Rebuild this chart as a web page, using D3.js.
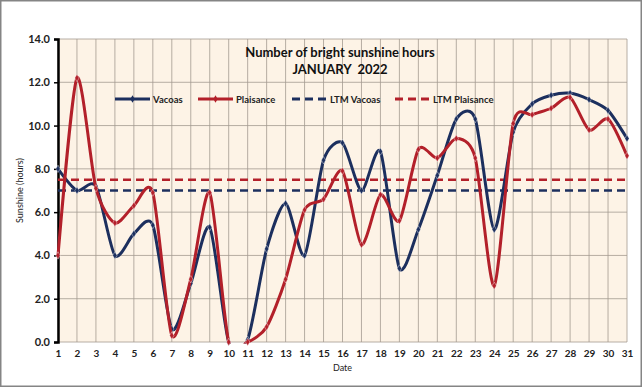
<!DOCTYPE html>
<html>
<head>
<meta charset="utf-8">
<script src="https://d3js.org/d3.v7.min.js"></script>
<title>Number of bright sunshine hours - January 2022</title>
<style>
  body { margin: 0; background: #fff; }
  svg { display: block; font-family: Lato, "Open Sans", sans-serif; }
</style>
</head>
<body>
<div id="chart"></div>
<script>
  // data
  var days = d3.range(1, 32);
  var vacoas = [8.0, 7.0, 7.2, 4.0, 5.0, 5.4, 0.6, 2.7, 5.3, 0.0,
                0.1, 4.3, 6.4, 4.0, 8.4, 9.2, 7.0, 8.8, 3.4, 5.2,
                7.7, 10.3, 10.3, 5.2, 9.7, 11.0, 11.4, 11.5, 11.2, 10.7, 9.4];
  var plaisance = [4.0, 12.2, 7.1, 5.5, 6.3, 6.9, 0.3, 2.9, 6.9, 0.0,
                   0.0, 0.7, 2.9, 6.1, 6.6, 7.9, 4.5, 6.8, 5.6, 8.9,
                   8.5, 9.4, 8.5, 2.6, 10.1, 10.5, 10.8, 11.3, 9.8, 10.3, 8.6];
  var ltmVacoas = 7.0;
  var ltmPlaisance = 7.5;
  var yTicks = [0, 2, 4, 6, 8, 10, 12, 14];

  var width = 643, height = 388;
  var margin = {top: 39, right: 16, bottom: 46, left: 58};
  var navy = '#1c2f5e', red = '#b3202a';

  var svg = d3.select('#chart').append('svg')
      .attr('width', width).attr('height', height);

  // outer frame
  svg.append('rect')
      .attr('x', 0.75).attr('y', 0.75)
      .attr('width', width - 2.5).attr('height', height - 2.5)
      .attr('fill', '#fff').attr('stroke', '#858585').attr('stroke-width', 1.5);

  var x = d3.scaleLinear().domain([1, 31]).range([margin.left, width - margin.right]);
  var y = d3.scaleLinear().domain([0, 14]).range([height - margin.bottom, margin.top]);

  svg.append('clipPath').attr('id', 'plot-clip')
    .append('rect')
      .attr('x', x(1) - 5).attr('y', y(14))
      .attr('width', x(31) - x(1) + 10).attr('height', y(0) - y(14) + 1.5);

  // plot background
  svg.append('rect')
      .attr('x', x(1)).attr('y', y(14))
      .attr('width', x(31) - x(1)).attr('height', y(0) - y(14))
      .attr('fill', '#fdf3e6');

  // grid
  svg.append('g').selectAll('line')
      .data(days).enter().append('line')
      .attr('x1', d => x(d)).attr('x2', d => x(d))
      .attr('y1', y(0)).attr('y2', y(14))
      .attr('stroke', '#a39a90').attr('stroke-width', 0.8);
  svg.append('g').selectAll('line')
      .data(yTicks).enter().append('line')
      .attr('x1', x(1)).attr('x2', x(31))
      .attr('y1', d => y(d)).attr('y2', d => y(d))
      .attr('stroke', '#a39a90').attr('stroke-width', 0.8);

  // y axis
  var yAxis = svg.append('g')
      .attr('transform', 'translate(' + x(1) + ',0)')
      .call(d3.axisLeft(y).tickValues(yTicks).tickFormat(d3.format('.1f')).tickSize(4).tickPadding(4));
  yAxis.select('.domain').attr('stroke', '#000').attr('stroke-width', 2.5);
  yAxis.selectAll('.tick line').attr('stroke', '#000').attr('stroke-width', 1.5);
  yAxis.selectAll('text').attr('font-size', 11).attr('font-weight', 'bold')
      .attr('fill', '#222').attr('font-family', 'Lato, sans-serif');

  // x axis labels
  var xAxis = svg.append('g')
      .attr('transform', 'translate(0,' + y(0) + ')')
      .call(d3.axisBottom(x).tickValues(days).tickFormat(d3.format('d')).tickSize(0).tickPadding(8));
  xAxis.select('.domain').remove();
  xAxis.selectAll('text').attr('font-size', 10).attr('font-weight', 'bold')
      .attr('fill', '#222').attr('font-family', 'Lato, sans-serif');

  // axis titles
  svg.append('text')
      .attr('x', (x(1) + x(31)) / 2).attr('y', 371)
      .attr('text-anchor', 'middle').attr('font-size', 9).attr('fill', '#222')
      .text('Date');
  svg.append('text')
      .attr('transform', 'translate(23,' + y(7) + ') rotate(-90)')
      .attr('text-anchor', 'middle').attr('font-size', 9).attr('fill', '#222')
      .text('Sunshine (hours)');

  // title
  svg.append('text')
      .attr('x', 340).attr('y', 57)
      .attr('text-anchor', 'middle').attr('font-size', 13).attr('font-weight', 'bold')
      .attr('fill', '#111').text('Number of bright sunshine hours');
  svg.append('text')
      .attr('x', 340).attr('y', 74)
      .attr('text-anchor', 'middle').attr('font-size', 13).attr('font-weight', 'bold')
      .attr('fill', '#111').attr('xml:space', 'preserve').text('JANUARY  2022');

  // long term mean lines
  svg.append('line')
      .attr('x1', x(1)).attr('x2', x(31))
      .attr('y1', y(ltmVacoas)).attr('y2', y(ltmVacoas))
      .attr('stroke', navy).attr('stroke-width', 2.5).attr('stroke-dasharray', '8,5');
  svg.append('line')
      .attr('x1', x(1)).attr('x2', x(31))
      .attr('y1', y(ltmPlaisance)).attr('y2', y(ltmPlaisance))
      .attr('stroke', red).attr('stroke-width', 2.5).attr('stroke-dasharray', '8,5');

  var line = d3.line()
      .x((d, i) => x(days[i]))
      .y(d => y(d))
      .curve(d3.curveCardinal.tension(0.25));

  function series(vals, color) {
    svg.append('path')
        .datum(vals)
        .attr('clip-path', 'url(#plot-clip)')
        .attr('d', line)
        .attr('fill', 'none').attr('stroke', color).attr('stroke-width', 3);
    svg.append('g').selectAll('path')
        .data(vals).enter().append('path')
        .attr('transform', (d, i) => 'translate(' + x(days[i]) + ',' + y(d) + ')')
        .attr('d', d3.symbol().type(d3.symbolDiamond).size(16))
        .attr('fill', color).attr('stroke', '#fff').attr('stroke-width', 0.4);
  }
  series(vacoas, navy);
  series(plaisance, red);

  // legend
  var legend = [
    {name: 'Vacoas', color: navy, dash: null, x: 115},
    {name: 'Plaisance', color: red, dash: null, x: 198},
    {name: 'LTM Vacoas', color: navy, dash: '8,5', x: 292},
    {name: 'LTM Plaisance', color: red, dash: '8,5', x: 395}
  ];
  var lg = svg.append('g').selectAll('g')
      .data(legend).enter().append('g')
      .attr('transform', d => 'translate(' + d.x + ',99)');
  lg.append('line')
      .attr('x1', 0).attr('x2', 35)
      .attr('stroke', d => d.color).attr('stroke-width', 3)
      .attr('stroke-dasharray', d => d.dash);
  lg.filter(d => !d.dash).append('path')
      .attr('transform', 'translate(17.5,0)')
      .attr('d', d3.symbol().type(d3.symbolDiamond).size(16))
      .attr('fill', d => d.color);
  lg.append('text')
      .attr('x', 38).attr('y', 3.5)
      .attr('font-size', 9.5).attr('font-weight', 'bold').attr('fill', '#222')
      .text(d => d.name);
</script>
</body>
</html>
